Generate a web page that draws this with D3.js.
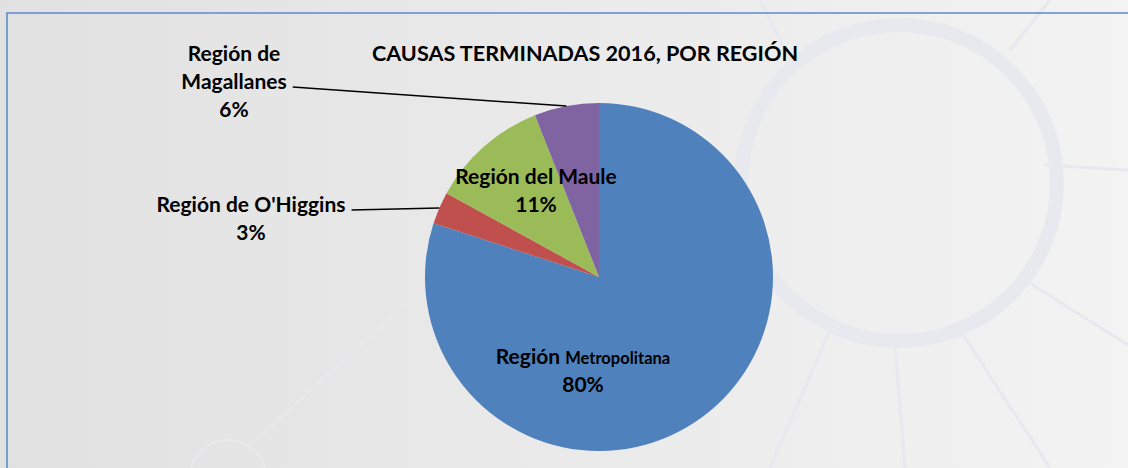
<!DOCTYPE html>
<html>
<head>
<meta charset="utf-8">
<script src="https://cdn.jsdelivr.net/npm/d3@7"></script>
<style>
  html, body { margin: 0; padding: 0; }
  body { width: 1128px; height: 468px; overflow: hidden; }
  svg text { font-family: Lato, "Open Sans", sans-serif; font-weight: bold; fill: #000; }
</style>
</head>
<body>
<svg id="chart" width="1128" height="468"></svg>
<script>
// data
var regions = ["Región Metropolitana", "Región de O'Higgins", "Región del Maule", "Región de Magallanes"];
var shares = [80, 3, 11, 6];
var colors = ["#4f81bd", "#c0504d", "#9bbb59", "#8064a2"];
var title = "CAUSAS TERMINADAS 2016, POR REGIÓN";

var svg = d3.select("#chart"),
    width = +svg.attr("width"),
    height = +svg.attr("height"),
    cx = 599, cy = 277, radius = 174;

// background wash
var defs = svg.append("defs");
var bg = defs.append("linearGradient").attr("id", "bg").attr("x1", 0).attr("x2", 1).attr("y1", 0).attr("y2", 0);
bg.append("stop").attr("offset", "0%").attr("stop-color", "#e1e1e1");
bg.append("stop").attr("offset", "100%").attr("stop-color", "#f3f3f3");
svg.append("rect").attr("width", width).attr("height", height).attr("fill", "url(#bg)");

// faint decorative ring + spokes
var deco = svg.append("g").attr("fill", "none").attr("stroke", "#e8e8ef");
deco.append("circle").attr("cx", 899).attr("cy", 183).attr("r", 158).attr("stroke-width", 14);
[[1045, 165, 1128, 170], [1025, 280, 1128, 345], [960, 330, 1050, 468], [895, 345, 905, 468],
 [830, 330, 770, 468], [1010, 50, 1050, 0], [790, 60, 760, 0]].forEach(s => {
  deco.append("line").attr("x1", s[0]).attr("y1", s[1]).attr("x2", s[2]).attr("y2", s[3]).attr("stroke-width", 3);
});
var deco2 = svg.append("g").attr("fill", "none").attr("stroke", "#e9e9ee").attr("stroke-width", 2);
deco2.append("circle").attr("cx", 228).attr("cy", 478).attr("r", 38);
deco2.append("line").attr("x1", 256).attr("y1", 440).attr("x2", 410).attr("y2", 300);

// frame
svg.append("path")
  .attr("d", "M7," + (height + 2) + "V13H" + (width + 2))
  .attr("fill", "none").attr("stroke", "#5b8bcb").attr("stroke-width", 1.6);

var pie = d3.pie().sort(null).value(d => d)(shares);
var arc = d3.arc().innerRadius(0).outerRadius(radius);
var edge = d3.arc().innerRadius(radius).outerRadius(radius);
var total = d3.sum(shares);
var pct = d3.format(".0%");

var g = svg.append("g").attr("transform", "translate(" + cx + "," + cy + ")");
g.selectAll("path.slice")
  .data(pie)
  .enter().append("path")
  .attr("class", "slice")
  .attr("d", arc)
  .attr("fill", (d, i) => colors[i]);

svg.append("text")
  .attr("x", 585).attr("y", 61)
  .attr("text-anchor", "middle")
  .attr("font-size", 21.6)
  .text(title);

// label layout (Excel placed these by hand)
var labelPos = [
  { x: 583, y: 364, lines: null },
  { x: 251, y: 212, lines: ["Región de O'Higgins"] },
  { x: 536, y: 184, lines: ["Región del Maule"] },
  { x: 234, y: 61, lines: ["Región de", "Magallanes"] }
];
var lh = 28;

pie.forEach((d, i) => {
  var p = labelPos[i];
  var t = svg.append("text").attr("text-anchor", "middle").attr("font-size", 21);
  var n = 0;
  if (p.lines === null) {
    var words = regions[i].split(" ");
    var l = t.append("tspan").attr("x", p.x).attr("y", p.y);
    l.append("tspan").text(words[0] + " ");
    l.append("tspan").attr("font-size", 16.5).text(words.slice(1).join(" "));
    n = 1;
  } else {
    p.lines.forEach((s, k) => {
      t.append("tspan").attr("x", p.x).attr("y", p.y + k * lh).text(s);
    });
    n = p.lines.length;
  }
  t.append("tspan").attr("x", p.x).attr("y", p.y + n * lh).text(pct(shares[i] / total));

  // leader lines for labels outside the pie
  if (i === 1 || i === 3) {
    var bb = t.node().getBBox();
    var c = edge.centroid(d);
    var ly = p.y + (n - 1) * lh - 2;
    svg.append("line")
      .attr("x1", bb.x + bb.width + 6).attr("y1", ly)
      .attr("x2", cx + c[0]).attr("y2", cy + c[1])
      .attr("stroke", "#000").attr("stroke-width", 1.5);
  }
});
</script>
</body>
</html>
